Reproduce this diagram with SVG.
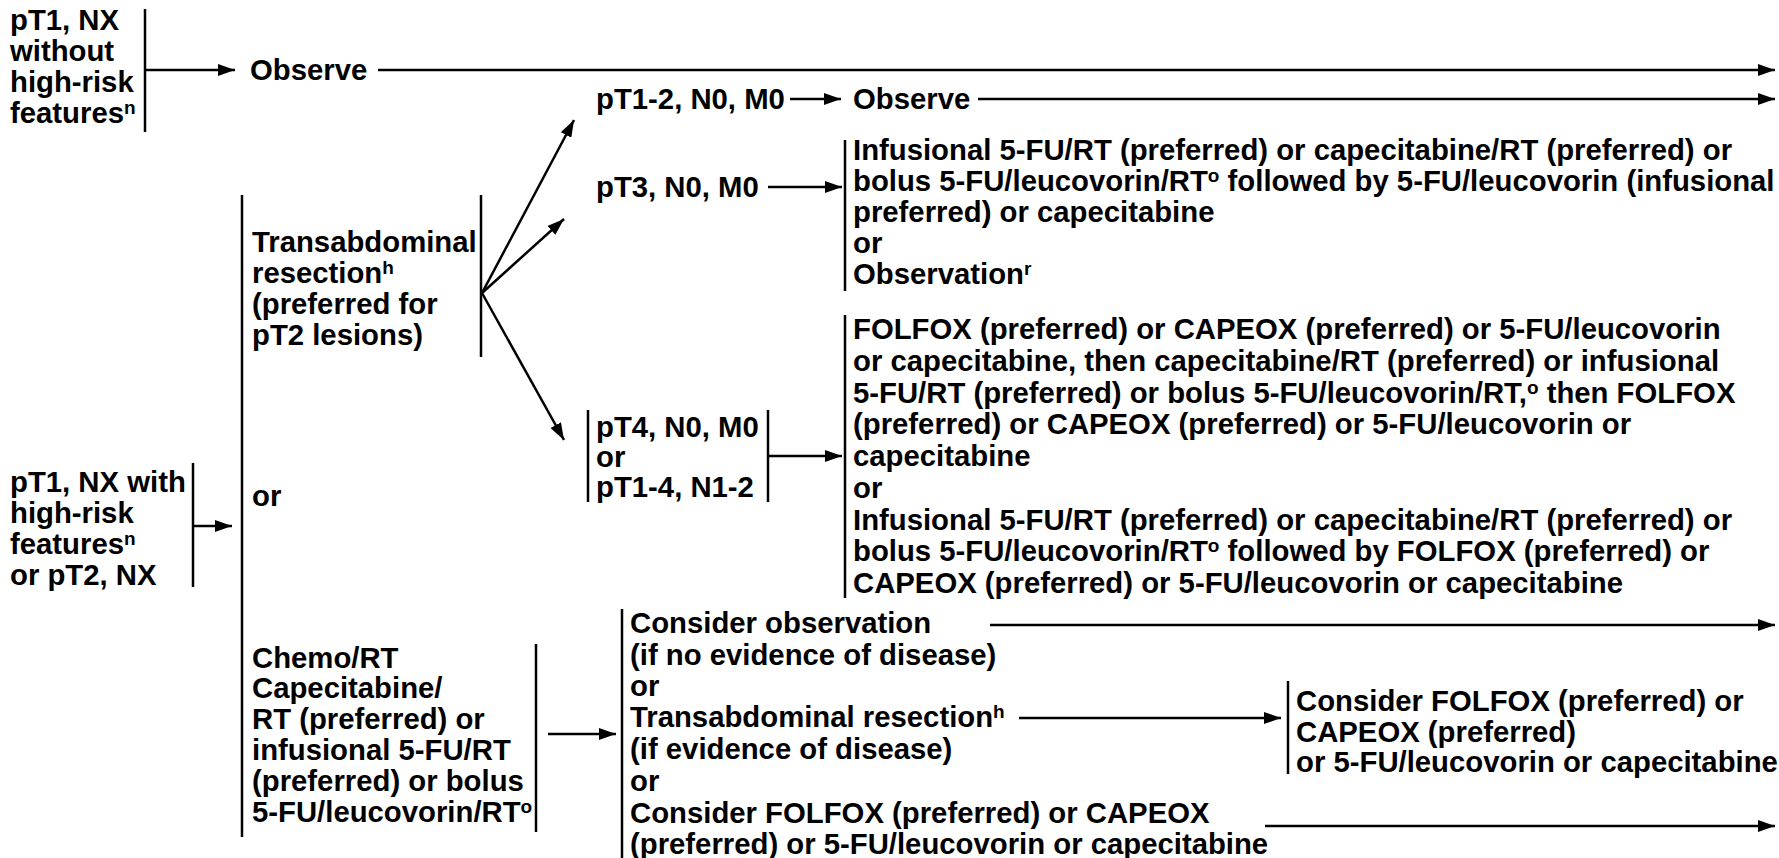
<svg xmlns="http://www.w3.org/2000/svg" width="1779" height="858" viewBox="0 0 1779 858">
<style>
text{font-family:"Liberation Sans",Arial,sans-serif;font-weight:bold;font-size:29.3px;fill:#000}
.sup{font-size:19px}
.bar{stroke:#000;stroke-width:2.5;fill:none}
.ln{stroke:#000;stroke-width:2.5;fill:none}
</style>
<defs>
<marker id="ah" markerWidth="17" markerHeight="12" refX="17" refY="6" orient="auto" markerUnits="userSpaceOnUse"><path d="M0,0 L17,6 L0,12 z" fill="#000"/></marker>
</defs>
<rect width="1779" height="858" fill="#fff"/>

<g id="n-pt1-nx-without">
<text x="10" y="30">pT1, NX</text>
<text x="10" y="61">without</text>
<text x="10" y="92">high-risk</text>
<text x="10" y="123">features<tspan class="sup" dy="-9">n</tspan></text>
<line class="bar" x1="145" y1="9" x2="145" y2="132"/>
</g>

<g id="n-observe1">
<text x="250" y="80">Observe</text>
</g>

<g id="n-pt1-nx-with">
<text x="10" y="492">pT1, NX with</text>
<text x="10" y="523">high-risk</text>
<text x="10" y="554">features<tspan class="sup" dy="-9">n</tspan></text>
<text x="10" y="585">or pT2, NX</text>
<line class="bar" x1="193" y1="463" x2="193" y2="587"/>
</g>

<g id="n-options">
<line class="bar" x1="242" y1="195" x2="242" y2="837"/>
<text x="252" y="506">or</text>
</g>

<g id="n-transabdominal">
<text x="252" y="252">Transabdominal</text>
<text x="252" y="283">resection<tspan class="sup" dy="-9">h</tspan></text>
<text x="252" y="314">(preferred for</text>
<text x="252" y="345">pT2 lesions)</text>
<line class="bar" x1="481" y1="195" x2="481" y2="357"/>
</g>

<g id="n-chemort">
<text x="252" y="668">Chemo/RT</text>
<text x="252" y="698">Capecitabine/</text>
<text x="252" y="729">RT (preferred) or</text>
<text x="252" y="760">infusional 5-FU/RT</text>
<text x="252" y="791">(preferred) or bolus</text>
<text x="252" y="822">5-FU/leucovorin/RT<tspan class="sup" dy="-9">o</tspan></text>
<line class="bar" x1="536" y1="644" x2="536" y2="832"/>
</g>

<g id="n-pt12">
<text x="596" y="109">pT1-2, N0, M0</text>
</g>
<g id="n-observe2">
<text x="853" y="109">Observe</text>
</g>

<g id="n-pt3">
<text x="596" y="197">pT3, N0, M0</text>
</g>

<g id="n-pt3-tx">
<line class="bar" x1="845" y1="140" x2="845" y2="291"/>
<text x="853" y="160">Infusional 5-FU/RT (preferred) or capecitabine/RT (preferred) or</text>
<text x="853" y="191">bolus 5-FU/leucovorin/RT<tspan class="sup" dy="-9">o</tspan><tspan dy="9"> followed by 5-FU/leucovorin (infusional</tspan></text>
<text x="853" y="222">preferred) or capecitabine</text>
<text x="853" y="253">or</text>
<text x="853" y="284">Observation<tspan class="sup" dy="-9">r</tspan></text>
</g>

<g id="n-pt4">
<line class="bar" x1="588" y1="410" x2="588" y2="502"/>
<text x="596" y="437">pT4, N0, M0</text>
<text x="596" y="467">or</text>
<text x="596" y="497">pT1-4, N1-2</text>
<line class="bar" x1="768" y1="410" x2="768" y2="502"/>
</g>

<g id="n-pt4-tx">
<line class="bar" x1="845" y1="315" x2="845" y2="598"/>
<text x="853" y="339">FOLFOX (preferred) or CAPEOX (preferred) or 5-FU/leucovorin</text>
<text x="853" y="371">or capecitabine, then capecitabine/RT (preferred) or infusional</text>
<text x="853" y="403">5-FU/RT (preferred) or bolus 5-FU/leucovorin/RT,<tspan class="sup" dy="-9">o</tspan><tspan dy="9"> then FOLFOX</tspan></text>
<text x="853" y="434">(preferred) or CAPEOX (preferred) or 5-FU/leucovorin or</text>
<text x="853" y="466">capecitabine</text>
<text x="853" y="498">or</text>
<text x="853" y="530">Infusional 5-FU/RT (preferred) or capecitabine/RT (preferred) or</text>
<text x="853" y="561">bolus 5-FU/leucovorin/RT<tspan class="sup" dy="-9">o</tspan><tspan dy="9"> followed by FOLFOX (preferred) or</tspan></text>
<text x="853" y="593">CAPEOX (preferred) or 5-FU/leucovorin or capecitabine</text>
</g>

<g id="n-after-chemort">
<line class="bar" x1="622" y1="609" x2="622" y2="858"/>
<text x="630" y="633">Consider observation</text>
<text x="630" y="665">(if no evidence of disease)</text>
<text x="630" y="696">or</text>
<text x="630" y="727">Transabdominal resection<tspan class="sup" dy="-9">h</tspan></text>
<text x="630" y="759">(if evidence of disease)</text>
<text x="630" y="791">or</text>
<text x="630" y="823">Consider FOLFOX (preferred) or CAPEOX</text>
<text x="630" y="854">(preferred) or 5-FU/leucovorin or capecitabine</text>
</g>

<g id="n-consider-folfox">
<line class="bar" x1="1288" y1="681" x2="1288" y2="774"/>
<text x="1296" y="711">Consider FOLFOX (preferred) or</text>
<text x="1296" y="742">CAPEOX (preferred)</text>
<text x="1296" y="772">or 5-FU/leucovorin or capecitabine</text>
</g>

<g id="connectors">
<line class="ln" x1="145" y1="70" x2="235" y2="70" marker-end="url(#ah)"/>
<line class="ln" x1="378" y1="70" x2="1775" y2="70" marker-end="url(#ah)"/>
<line class="ln" x1="193" y1="526" x2="232" y2="526" marker-end="url(#ah)"/>
<line class="ln" x1="482" y1="293" x2="574" y2="120" marker-end="url(#ah)"/>
<line class="ln" x1="482" y1="293" x2="564" y2="219" marker-end="url(#ah)"/>
<line class="ln" x1="482" y1="293" x2="564" y2="440" marker-end="url(#ah)"/>
<line class="ln" x1="790" y1="99" x2="841" y2="99" marker-end="url(#ah)"/>
<line class="ln" x1="978" y1="99" x2="1775" y2="99" marker-end="url(#ah)"/>
<line class="ln" x1="768" y1="187" x2="842" y2="187" marker-end="url(#ah)"/>
<line class="ln" x1="768" y1="456" x2="842" y2="456" marker-end="url(#ah)"/>
<line class="ln" x1="548" y1="734" x2="616" y2="734" marker-end="url(#ah)"/>
<line class="ln" x1="990" y1="625" x2="1775" y2="625" marker-end="url(#ah)"/>
<line class="ln" x1="1019" y1="718" x2="1281" y2="718" marker-end="url(#ah)"/>
<line class="ln" x1="1265" y1="826" x2="1775" y2="826" marker-end="url(#ah)"/>
</g>
</svg>
